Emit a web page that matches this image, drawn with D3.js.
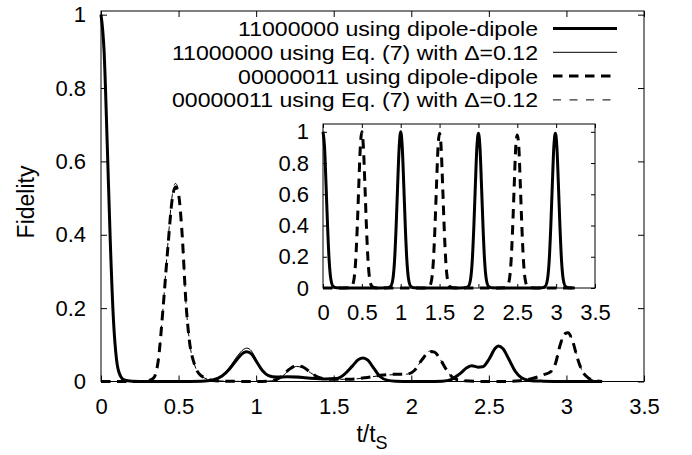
<!DOCTYPE html>
<html>
<head>
<meta charset="utf-8">
<script src="https://cdn.jsdelivr.net/npm/d3@7"></script>
<style>
  body { margin: 0; background: #fff; }
  text { font-family: "Liberation Sans", Arial, sans-serif; fill: #000; }
</style>
</head>
<body>
<div id="container"></div>
<script>
//枠の大きさ
let width = 692;
let height = 455;

// main panel: 11000000 using dipole-dipole (t/tS, fidelity)
var ddA_t = [0, 0.02, 0.04, 0.06, 0.08, 0.1, 0.12, 0.15, 0.2, 0.3, 0.5, 0.65, 0.72, 0.78, 0.83, 0.88, 0.92, 0.94, 0.97, 1.0, 1.04, 1.08, 1.13, 1.2, 1.27, 1.35, 1.45, 1.52, 1.57, 1.62, 1.66, 1.69, 1.72, 1.76, 1.8, 1.85, 1.9, 2.0, 2.1, 2.2, 2.26, 2.31, 2.36, 2.39, 2.43, 2.46, 2.5, 2.54, 2.56, 2.59, 2.63, 2.67, 2.71, 2.76, 2.85, 3.0, 3.23];
var ddA_f = [1, 0.9, 0.65, 0.38, 0.17, 0.06, 0.02, 0.004, 0.001, 0, 0, 0.001, 0.004, 0.015, 0.035, 0.062, 0.079, 0.081, 0.075, 0.056, 0.03, 0.016, 0.012, 0.013, 0.012, 0.009, 0.007, 0.008, 0.02, 0.042, 0.06, 0.064, 0.058, 0.035, 0.013, 0.003, 0.001, 0, 0, 0.001, 0.006, 0.02, 0.038, 0.043, 0.039, 0.04, 0.06, 0.09, 0.097, 0.09, 0.06, 0.028, 0.01, 0.003, 0.001, 0, 0];
// 11000000 using Eq. (7)
var eqA_t = ddA_t;
var eqA_f = [1, 0.9, 0.65, 0.38, 0.17, 0.06, 0.02, 0.004, 0.001, 0, 0, 0.001, 0.005, 0.017, 0.04, 0.07, 0.088, 0.091, 0.083, 0.06, 0.03, 0.014, 0.01, 0.011, 0.01, 0.008, 0.007, 0.008, 0.02, 0.042, 0.06, 0.065, 0.058, 0.035, 0.013, 0.003, 0.001, 0, 0, 0.001, 0.006, 0.02, 0.038, 0.043, 0.039, 0.04, 0.06, 0.09, 0.098, 0.09, 0.06, 0.028, 0.01, 0.003, 0.001, 0, 0];
// 00000011 using dipole-dipole
var ddB_t = [0, 0.25, 0.3, 0.34, 0.37, 0.4, 0.43, 0.46, 0.48, 0.5, 0.52, 0.55, 0.57, 0.6, 0.63, 0.67, 0.72, 0.8, 1.0, 1.1, 1.16, 1.21, 1.26, 1.3, 1.35, 1.4, 1.48, 1.6, 1.7, 1.8, 1.9, 1.97, 2.02, 2.07, 2.12, 2.15, 2.19, 2.23, 2.27, 2.32, 2.45, 2.6, 2.7, 2.78, 2.85, 2.9, 2.93, 2.96, 2.99, 3.01, 3.04, 3.07, 3.1, 3.14, 3.18, 3.23];
var ddB_f = [0, 0, 0.002, 0.01, 0.06, 0.2, 0.36, 0.5, 0.53, 0.51, 0.42, 0.2, 0.11, 0.05, 0.022, 0.01, 0.003, 0.001, 0, 0.002, 0.012, 0.032, 0.043, 0.04, 0.025, 0.012, 0.006, 0.006, 0.01, 0.017, 0.02, 0.02, 0.03, 0.06, 0.082, 0.08, 0.058, 0.03, 0.01, 0.003, 0, 0, 0.002, 0.008, 0.018, 0.027, 0.05, 0.1, 0.13, 0.133, 0.11, 0.065, 0.03, 0.01, 0.003, 0];
// 00000011 using Eq. (7)
var eqB_t = ddB_t;
var eqB_f = [0, 0, 0.002, 0.01, 0.06, 0.2, 0.37, 0.51, 0.54, 0.52, 0.42, 0.2, 0.11, 0.05, 0.02, 0.009, 0.003, 0.001, 0, 0.002, 0.011, 0.03, 0.041, 0.038, 0.024, 0.012, 0.006, 0.006, 0.01, 0.016, 0.019, 0.02, 0.03, 0.06, 0.083, 0.081, 0.058, 0.03, 0.01, 0.003, 0, 0, 0.002, 0.008, 0.018, 0.027, 0.05, 0.1, 0.131, 0.134, 0.11, 0.065, 0.03, 0.01, 0.003, 0];

// inset panel
var inA_t = [0, 0.02, 0.04, 0.06, 0.08, 0.1, 0.13, 0.17, 0.25, 0.5, 0.75, 0.83, 0.87, 0.9, 0.92, 0.94, 0.96, 0.98, 1.0, 1.02, 1.04, 1.06, 1.08, 1.1, 1.13, 1.17, 1.25, 1.5, 1.75, 1.83, 1.87, 1.9, 1.92, 1.94, 1.96, 1.98, 2.0, 2.02, 2.04, 2.06, 2.08, 2.1, 2.13, 2.17, 2.25, 2.5, 2.75, 2.82, 2.86, 2.89, 2.91, 2.93, 2.95, 2.97, 2.99, 3.01, 3.03, 3.05, 3.07, 3.09, 3.12, 3.16, 3.24];
var inA_f = [1, 0.9, 0.65, 0.38, 0.17, 0.06, 0.01, 0.001, 0, 0, 0, 0.001, 0.01, 0.06, 0.17, 0.38, 0.65, 0.9, 1, 0.9, 0.65, 0.38, 0.17, 0.06, 0.01, 0.001, 0, 0, 0, 0.001, 0.01, 0.06, 0.17, 0.38, 0.65, 0.9, 0.99, 0.9, 0.65, 0.38, 0.17, 0.06, 0.01, 0.001, 0, 0, 0, 0.001, 0.01, 0.06, 0.17, 0.38, 0.65, 0.9, 0.99, 0.9, 0.65, 0.38, 0.17, 0.06, 0.01, 0.001, 0];
var inB_t = [0, 0.25, 0.33, 0.37, 0.4, 0.42, 0.44, 0.46, 0.48, 0.5, 0.52, 0.54, 0.56, 0.58, 0.6, 0.63, 0.67, 0.75, 1.25, 1.33, 1.37, 1.4, 1.42, 1.44, 1.46, 1.48, 1.5, 1.52, 1.54, 1.56, 1.58, 1.6, 1.63, 1.67, 1.75, 2.25, 2.33, 2.37, 2.4, 2.42, 2.44, 2.46, 2.48, 2.5, 2.52, 2.54, 2.56, 2.58, 2.6, 2.63, 2.67, 2.75, 3.24];
var inB_f = [0, 0, 0.001, 0.01, 0.06, 0.17, 0.38, 0.65, 0.9, 1, 0.9, 0.65, 0.38, 0.17, 0.06, 0.01, 0.001, 0, 0, 0.001, 0.01, 0.06, 0.17, 0.38, 0.65, 0.9, 0.99, 0.9, 0.65, 0.38, 0.17, 0.06, 0.01, 0.001, 0, 0, 0.001, 0.01, 0.06, 0.17, 0.38, 0.65, 0.9, 0.98, 0.9, 0.65, 0.38, 0.17, 0.06, 0.01, 0.001, 0, 0];

// tick labels
var xTicks = [0, 0.5, 1, 1.5, 2, 2.5, 3, 3.5];
var yTicks = [0, 0.2, 0.4, 0.6, 0.8, 1];

var legendLabels = [
  "11000000 using dipole-dipole",
  "11000000 using Eq. (7) with \u0394=0.12",
  "00000011 using dipole-dipole",
  "00000011 using Eq. (7) with \u0394=0.12"
];

// 線のスタイル
var styles = [
  { w: 3, dash: null },
  { w: 1, dash: null },
  { w: 3, dash: "9.5,6.5" },
  { w: 1, dash: "8,8.5" }
];

var svg = d3.select("#container").append("svg")
  .attr("width", width)
  .attr("height", height);

var fontSize = 22;

function zip(ts, fs) {
  return ts.map(function(t, i) { return [t, fs[i]]; });
}

// パネルを描く
function drawPanel(box, yMax, series, pad, tickLen) {
  var x = d3.scaleLinear().domain([0, 3.5]).range([box.left, box.right]);
  var y = d3.scaleLinear().domain([0, yMax]).range([box.bottom, box.top]);
  var g = svg.append("g");

  g.append("rect")
    .attr("x", box.left).attr("y", box.top)
    .attr("width", box.right - box.left).attr("height", box.bottom - box.top)
    .attr("fill", "#fff");

  var ax = [
    d3.axisBottom(x).tickValues(xTicks).tickFormat(d3.format("")).tickSizeInner(-tickLen).tickSizeOuter(0).tickPadding(pad.x),
    d3.axisTop(x).tickValues(xTicks).tickFormat("").tickSizeInner(-tickLen).tickSizeOuter(0),
    d3.axisLeft(y).tickValues(yTicks).tickFormat(d3.format("")).tickSizeInner(-tickLen).tickSizeOuter(0).tickPadding(pad.y),
    d3.axisRight(y).tickValues(yTicks).tickFormat("").tickSizeInner(-tickLen).tickSizeOuter(0)
  ];
  var pos = ["translate(0," + box.bottom + ")", "translate(0," + box.top + ")",
    "translate(" + box.left + ",0)", "translate(" + box.right + ",0)"];
  ax.forEach(function(a, i) {
    var ag = g.append("g").attr("transform", pos[i]).call(a);
    ag.select(".domain").remove();
    ag.selectAll("line").attr("stroke", "#000").attr("stroke-width", 1);
    ag.selectAll("text").attr("font-size", fontSize).attr("font-family", null).attr("fill", "#000");
  });

  var line = d3.line()
    .x(function(d) { return x(d[0]); })
    .y(function(d) { return y(d[1]); })
    .curve(d3.curveMonotoneX);

  series.forEach(function(s) {
    g.append("path")
      .datum(s.data)
      .attr("fill", "none")
      .attr("stroke", "#000")
      .attr("stroke-width", s.style.w)
      .attr("stroke-dasharray", s.style.dash)
      .attr("stroke-linejoin", "round")
      .attr("d", line);
  });

  g.append("rect")
    .attr("x", box.left).attr("y", box.top)
    .attr("width", box.right - box.left).attr("height", box.bottom - box.top)
    .attr("fill", "none").attr("stroke", "#000").attr("stroke-width", 1);
}

var mainBox = { left: 101, right: 644, top: 11, bottom: 381.5 };
drawPanel(mainBox, 1.01, [
  { data: zip(ddA_t, ddA_f), style: styles[0] },
  { data: zip(eqA_t, eqA_f), style: styles[1] },
  { data: zip(ddB_t, ddB_f), style: styles[2] },
  { data: zip(eqB_t, eqB_f), style: styles[3] }
], { x: 17, y: 15 }, 6);

// 凡例 (文字は少し横長)
var legend = svg.append("g");
legendLabels.forEach(function(lab, i) {
  var yy = 28.5 + i * 23.8;
  legend.append("g")
    .attr("transform", "translate(538," + (yy + 7.5) + ") scale(1.1,1)")
    .append("text")
    .attr("text-anchor", "end")
    .attr("font-size", 21)
    .text(lab);
  legend.append("line")
    .attr("x1", 553).attr("x2", 617)
    .attr("y1", yy).attr("y2", yy)
    .attr("stroke", "#000")
    .attr("stroke-width", styles[i].w)
    .attr("stroke-dasharray", styles[i].dash);
});

// inset
var insetBox = { left: 323, right: 595, top: 124, bottom: 288 };
drawPanel(insetBox, 1.05, [
  { data: zip(inA_t, inA_f), style: styles[0] },
  { data: zip(inB_t, inB_f), style: styles[2] }
], { x: 16, y: 14 }, 4);

// 軸ラベル
svg.append("text")
  .attr("transform", "translate(34,202) rotate(-90)")
  .attr("text-anchor", "middle")
  .attr("font-size", 23)
  .text("Fidelity");

var xl = svg.append("text")
  .attr("x", 372).attr("y", 442)
  .attr("text-anchor", "middle")
  .attr("font-size", 23);
xl.append("tspan").text("t/t");
xl.append("tspan").attr("dy", 7).attr("font-size", 18).text("S");
</script>
</body>
</html>
